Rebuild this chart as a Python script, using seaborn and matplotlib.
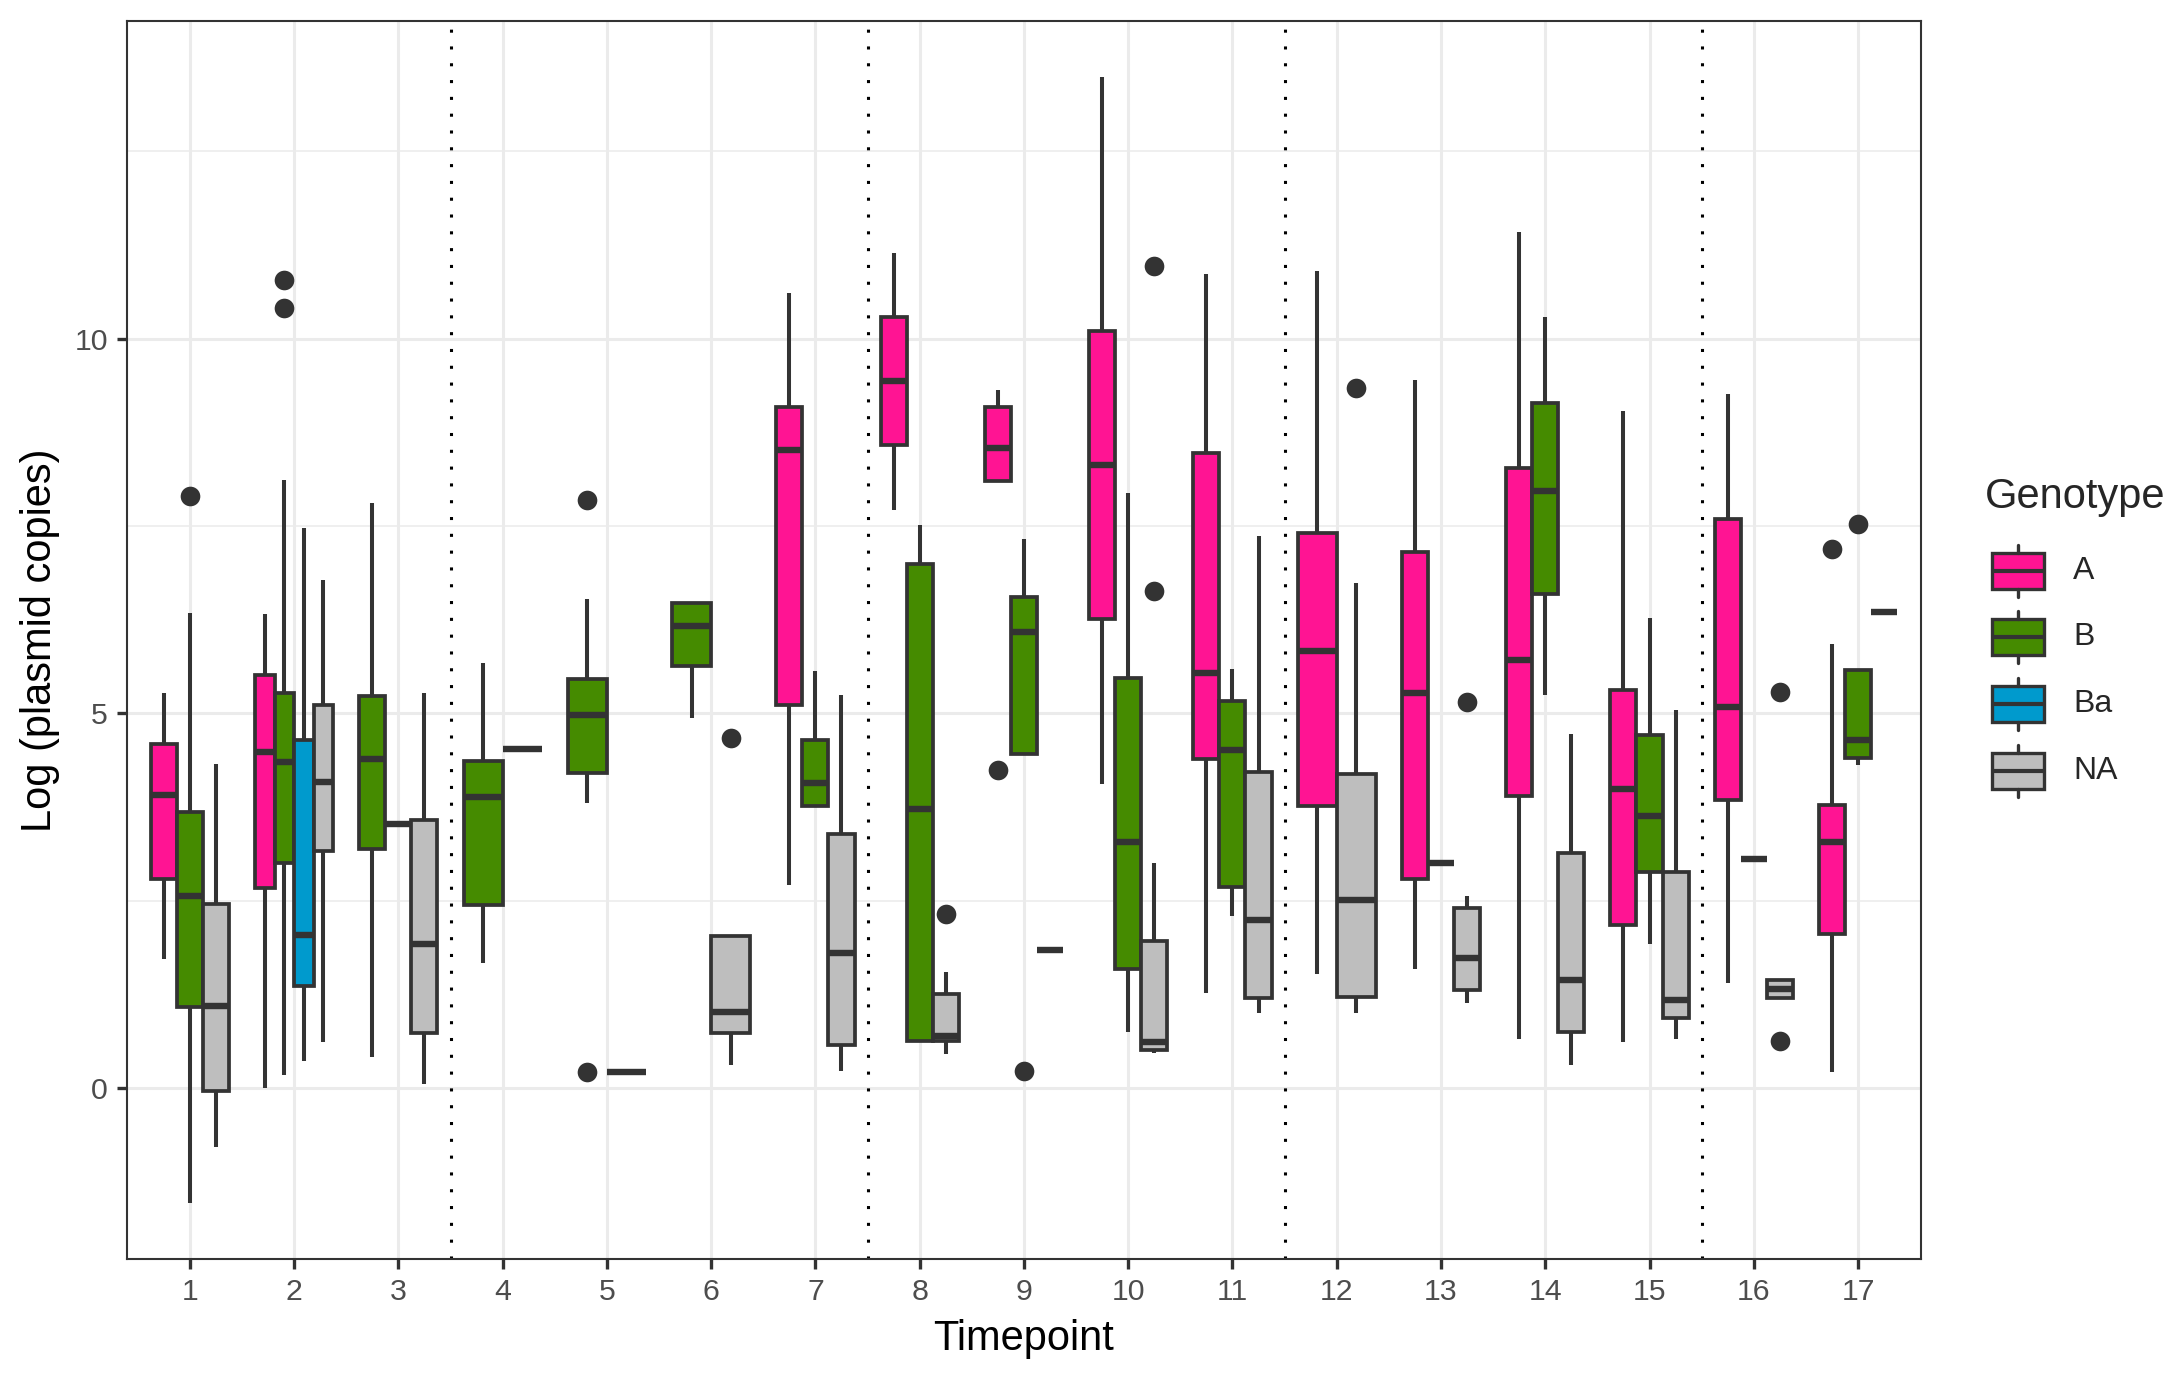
import numpy as np
import pandas as pd
import matplotlib
matplotlib.use("Agg")
import matplotlib.pyplot as plt
from matplotlib.ticker import FixedLocator
import seaborn as sns

# Genotype levels and fill colours
genotypes = ["A", "B", "Ba", "NA"]
palette = {"A": "#FF1493", "B": "#458B00", "Ba": "#009ACD", "NA": "#BEBEBE"}

# Box statistics (one entry per box)
box_tp = [1, 1, 1, 2, 2, 2, 2, 3, 3, 3, 4, 4, 5, 5, 6, 6, 7, 7, 7, 8, 8, 8,
          9, 9, 9, 10, 10, 10, 11, 11, 11, 12, 12, 13, 13, 13, 14, 14, 14,
          15, 15, 15, 16, 16, 16, 17, 17, 17]
box_geno = ["A", "B", "NA", "A", "B", "Ba", "NA", "B", "Ba", "NA", "B", "NA",
            "B", "NA", "B", "NA", "A", "B", "NA", "A", "B", "NA",
            "A", "B", "NA", "A", "B", "NA", "A", "B", "NA", "A", "NA",
            "A", "B", "NA", "A", "B", "NA", "A", "B", "NA", "A", "B", "NA",
            "A", "B", "NA"]
box_lo = [1.73, -1.53, -0.79, 0.00, 0.17, 0.36, 0.62, 0.41, 3.52, 0.06,
          1.67, 4.53, 3.81, 0.21, 4.94, 0.31, 2.71, 3.77, 0.23, 7.72, 0.63, 0.46,
          8.10, 4.46, 1.85, 4.06, 0.75, 0.47, 1.27, 2.30, 1.00, 1.52, 1.00,
          1.59, 3.00, 1.14, 0.65, 5.25, 0.31, 0.61, 1.93, 0.65, 1.40, 3.06, 1.21,
          0.22, 4.31, 6.36]
box_q1 = [2.79, 1.08, -0.04, 2.67, 3.01, 1.37, 3.17, 3.19, 3.52, 0.74,
          2.45, 4.53, 4.21, 0.21, 5.63, 0.74, 5.11, 3.77, 0.57, 8.58, 0.63, 0.63,
          8.10, 4.46, 1.85, 6.26, 1.59, 0.51, 4.39, 2.69, 1.21, 3.77, 1.22,
          2.79, 3.00, 1.31, 3.90, 6.60, 0.75, 2.18, 2.89, 0.94, 3.85, 3.06, 1.21,
          2.06, 4.40, 6.36]
box_med = [3.91, 2.56, 1.09, 4.49, 4.35, 2.04, 4.08, 4.39, 3.52, 1.92,
           3.88, 4.53, 4.98, 0.21, 6.17, 1.02, 8.51, 4.07, 1.81, 9.44, 3.72, 0.70,
           8.54, 6.09, 1.85, 8.32, 3.28, 0.61, 5.54, 4.51, 2.24, 5.83, 2.51,
           5.28, 3.00, 1.74, 5.72, 7.97, 1.45, 3.99, 3.63, 1.18, 5.09, 3.06, 1.33,
           3.28, 4.64, 6.36]
box_q3 = [4.59, 3.68, 2.46, 5.51, 5.27, 4.65, 5.11, 5.23, 3.52, 3.58,
          4.37, 4.53, 5.46, 0.21, 6.47, 2.03, 9.09, 4.65, 3.39, 10.29, 6.99, 1.26,
          9.09, 6.56, 1.85, 10.11, 5.48, 1.97, 8.48, 5.17, 4.22, 7.41, 4.19,
          7.16, 3.00, 2.41, 8.28, 9.14, 3.14, 5.31, 4.71, 2.89, 7.59, 3.06, 1.44,
          3.78, 5.58, 6.36]
box_hi = [5.28, 6.34, 4.32, 6.33, 8.12, 7.48, 6.78, 7.81, 3.52, 5.28,
          5.67, 4.53, 6.53, 0.21, 6.47, 2.03, 10.61, 5.57, 5.25, 11.15, 7.51, 1.55,
          9.32, 7.33, 1.85, 13.49, 7.94, 3.01, 10.87, 5.60, 7.37, 10.91, 6.74,
          9.45, 3.00, 2.56, 11.43, 10.29, 4.73, 9.03, 6.28, 5.05, 9.26, 3.06, 1.44,
          5.93, 5.58, 6.36]

# Outlying points
out_tp = [1, 2, 2, 5, 5, 6, 8, 9, 9, 10, 10, 12, 13, 16, 16, 17, 17]
out_geno = ["B", "B", "B", "B", "B", "NA", "NA", "A", "B", "NA", "NA", "NA",
            "NA", "NA", "NA", "A", "B"]
out_val = [7.90, 10.78, 10.41, 7.85, 0.22, 4.67, 2.32, 4.24, 0.23, 10.97,
           6.64, 9.34, 5.15, 5.29, 0.63, 7.19, 7.53]

# Dotted separators between timepoint blocks
separators = [3.5, 7.5, 11.5, 15.5]

EDGE = "#333333"
FONT = ["Liberation Sans", "DejaVu Sans"]

sns.set_theme(style="ticks")
plt.rcParams["font.family"] = FONT

boxes = pd.DataFrame({"tp": box_tp, "geno": box_geno, "lo": box_lo, "q1": box_q1,
                      "med": box_med, "q3": box_q3, "hi": box_hi})
# dodge: the groups present at a timepoint share 0.75 of the slot
boxes["n"] = boxes.groupby("tp")["tp"].transform("size")
boxes["i"] = boxes.groupby("tp").cumcount()
boxes["w"] = 0.75 / boxes["n"]
boxes["x"] = boxes["tp"] - 0.375 + boxes["w"] * (boxes["i"] + 0.5)

outliers = pd.DataFrame({"tp": out_tp, "geno": out_geno, "val": out_val})
outliers = outliers.merge(boxes[["tp", "geno", "x"]], on=["tp", "geno"])

fig = plt.figure(figsize=(21.8, 13.76), dpi=100)
ax = fig.add_axes([0.0584, 0.085, 0.8226, 0.8997])

stats = [dict(whislo=r.lo, q1=r.q1, med=r.med, q3=r.q3, whishi=r.hi, fliers=[])
         for r in boxes.itertuples()]
bp = ax.bxp(stats, positions=boxes["x"], widths=boxes["w"], patch_artist=True,
            showcaps=False, showfliers=False, manage_ticks=False,
            boxprops=dict(edgecolor=EDGE, linewidth=2.7),
            whiskerprops=dict(color=EDGE, linewidth=2.9, solid_capstyle="butt"),
            medianprops=dict(color=EDGE, linewidth=4.6, solid_capstyle="butt"))
for patch, g in zip(bp["boxes"], boxes["geno"]):
    patch.set_facecolor(palette[g])
    patch.set_zorder(2)

sns.scatterplot(data=outliers, x="x", y="val", ax=ax, color=EDGE, s=200,
                linewidth=0, zorder=3, legend=False)

for v in separators:
    ax.axvline(v, color="black", lw=2.2, ls=(0, (1.0, 4.5)),
               dash_capstyle="butt", zorder=1.5)

ax.set_xlim(0.4, 17.6)
ax.set_ylim(-2.28, 14.24)
ax.set_xticks(range(1, 18))
ax.set_xticklabels([str(t) for t in range(1, 18)])
ax.set_yticks([0, 5, 10])
ax.yaxis.set_minor_locator(FixedLocator([2.5, 7.5, 12.5]))
ax.set_axisbelow(True)
ax.grid(which="major", color="#EBEBEB", lw=2.2)
ax.grid(which="minor", axis="y", color="#EBEBEB", lw=1.1)
ax.tick_params(which="major", length=7.5, width=2.4, color=EDGE,
               labelsize=21.8, labelcolor="#4D4D4D", pad=6.5)
ax.tick_params(which="minor", length=0)
for s in ax.spines.values():
    s.set_color(EDGE)
    s.set_linewidth(1.5)
ax.set_xlabel("Timepoint", fontsize=30, color="black", labelpad=9)
ax.set_ylabel("Log (plasmid copies)", fontsize=30, color="black", labelpad=10)

# legend drawn as small boxplot glyphs in its own axes (pixel units)
lax = fig.add_axes([1975 / 2180, 1 - 810 / 1376, 205 / 2180, 345 / 1376])
lax.set_xlim(1975, 2180)
lax.set_ylim(810, 465)
lax.axis("off")
lax.text(1985, 497, "Genotype", fontsize=30, ha="left", va="center")
key_stats = []
for k, g in enumerate(genotypes):
    c = 570.7 + 66.6 * k
    key_stats.append(dict(whislo=c - 26, q1=c - 18, med=c, q3=c + 18,
                          whishi=c + 26, fliers=[]))
    lax.text(2073, c, g, fontsize=23, ha="left", va="center")
kb = lax.bxp(key_stats, positions=[2018] * 4, widths=52, patch_artist=True,
             showcaps=False, showfliers=False, manage_ticks=False,
             boxprops=dict(edgecolor=EDGE, linewidth=2.4),
             whiskerprops=dict(color=EDGE, linewidth=2.4),
             medianprops=dict(color=EDGE, linewidth=3.0))
for patch, g in zip(kb["boxes"], genotypes):
    patch.set_facecolor(palette[g])

fig.savefig("out.png", dpi=100)
